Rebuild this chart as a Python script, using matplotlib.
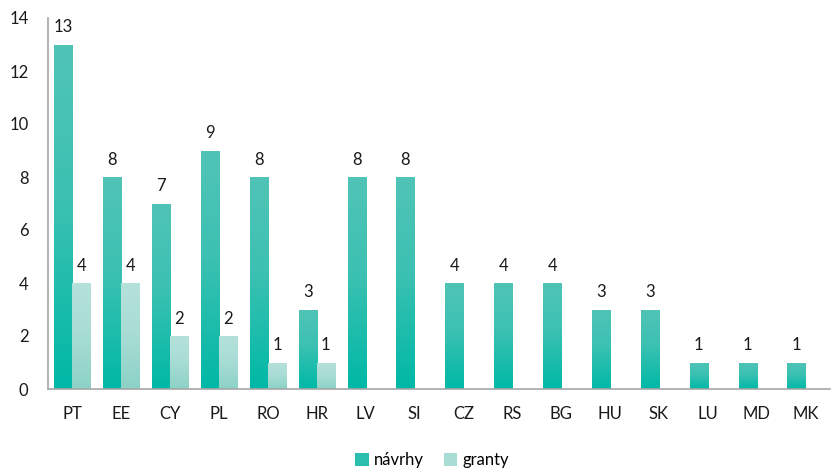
import numpy as np
import matplotlib
matplotlib.use("Agg")
import matplotlib.pyplot as plt
from matplotlib.colors import LinearSegmentedColormap
from matplotlib.patches import Patch

plt.rcParams['font.family'] = ['Lato', 'DejaVu Sans']

categories = ["PT", "EE", "CY", "PL", "RO", "HR", "LV", "SI", "CZ", "RS", "BG", "HU", "SK", "LU", "MD", "MK"]
navrhy = [13, 8, 7, 9, 8, 3, 8, 8, 4, 4, 4, 3, 3, 1, 1, 1]
granty = [4, 4, 2, 2, 1, 1, None, None, None, None, None, None, None, None, None, None]

fig = plt.figure(figsize=(8.31, 4.70), dpi=100)
ax = fig.add_axes([48/831, 1-389/470, 782/831, 371/470])

x = np.arange(len(categories))
w = 0.37

cmap_n = LinearSegmentedColormap.from_list("n", [(0, "#00B8A6"), (0.55, "#3CC1B2"), (1, "#50C4B6")])
cmap_g = LinearSegmentedColormap.from_list("g", [(0, "#8CD2C6"), (0.55, "#AADDD6"), (1, "#B5E1DB")])

def grad_bar(xc, h, cmap):
    bars = ax.bar(xc, h, width=w, color="none", edgecolor="none")
    for b in bars:
        x0 = b.get_x()
        grad = np.linspace(0, 1, 256).reshape(-1, 1)
        im = ax.imshow(grad, cmap=cmap, origin="lower", aspect="auto",
                       extent=[x0, x0 + b.get_width(), 0, b.get_height()], zorder=2)
        im.set_clip_path(b)
        b.set_zorder(2)
    for xi, hi in zip(xc, h):
        ax.text(xi, hi + 0.35, f"{hi}", ha="center", va="bottom", fontsize=12, color="#1a1a1a")

grad_bar(x - w/2, navrhy, cmap_n)
gx = [xi + w/2 for xi, g in zip(x, granty) if g is not None]
gv = [g for g in granty if g is not None]
grad_bar(gx, gv, cmap_g)

ax.set_xlim(-0.5, len(categories) - 0.5)
ax.set_ylim(0, 14)
ax.set_yticks(range(0, 15, 2))
ax.set_xticks(x)
ax.set_xticklabels(categories)
ax.tick_params(axis='both', length=0, labelsize=12, colors="#1a1a1a")
ax.tick_params(axis='x', pad=12)
ax.tick_params(axis='y', pad=14)
for s in ["top", "right"]:
    ax.spines[s].set_visible(False)
for s in ["left", "bottom"]:
    ax.spines[s].set_color("#A6A6A6")
    ax.spines[s].set_linewidth(1.2)

handles = [Patch(facecolor="#2BBDAE", label="návrhy"), Patch(facecolor="#A8DDD6", label="granty")]
fig.legend(handles=handles, loc="center", bbox_to_anchor=(432/831, 1-460/470), ncol=2,
           frameon=False, fontsize=12, handlelength=0.8, handleheight=0.8,
           handletextpad=0.3, columnspacing=1.2)

fig.savefig("out.png", dpi=100)
